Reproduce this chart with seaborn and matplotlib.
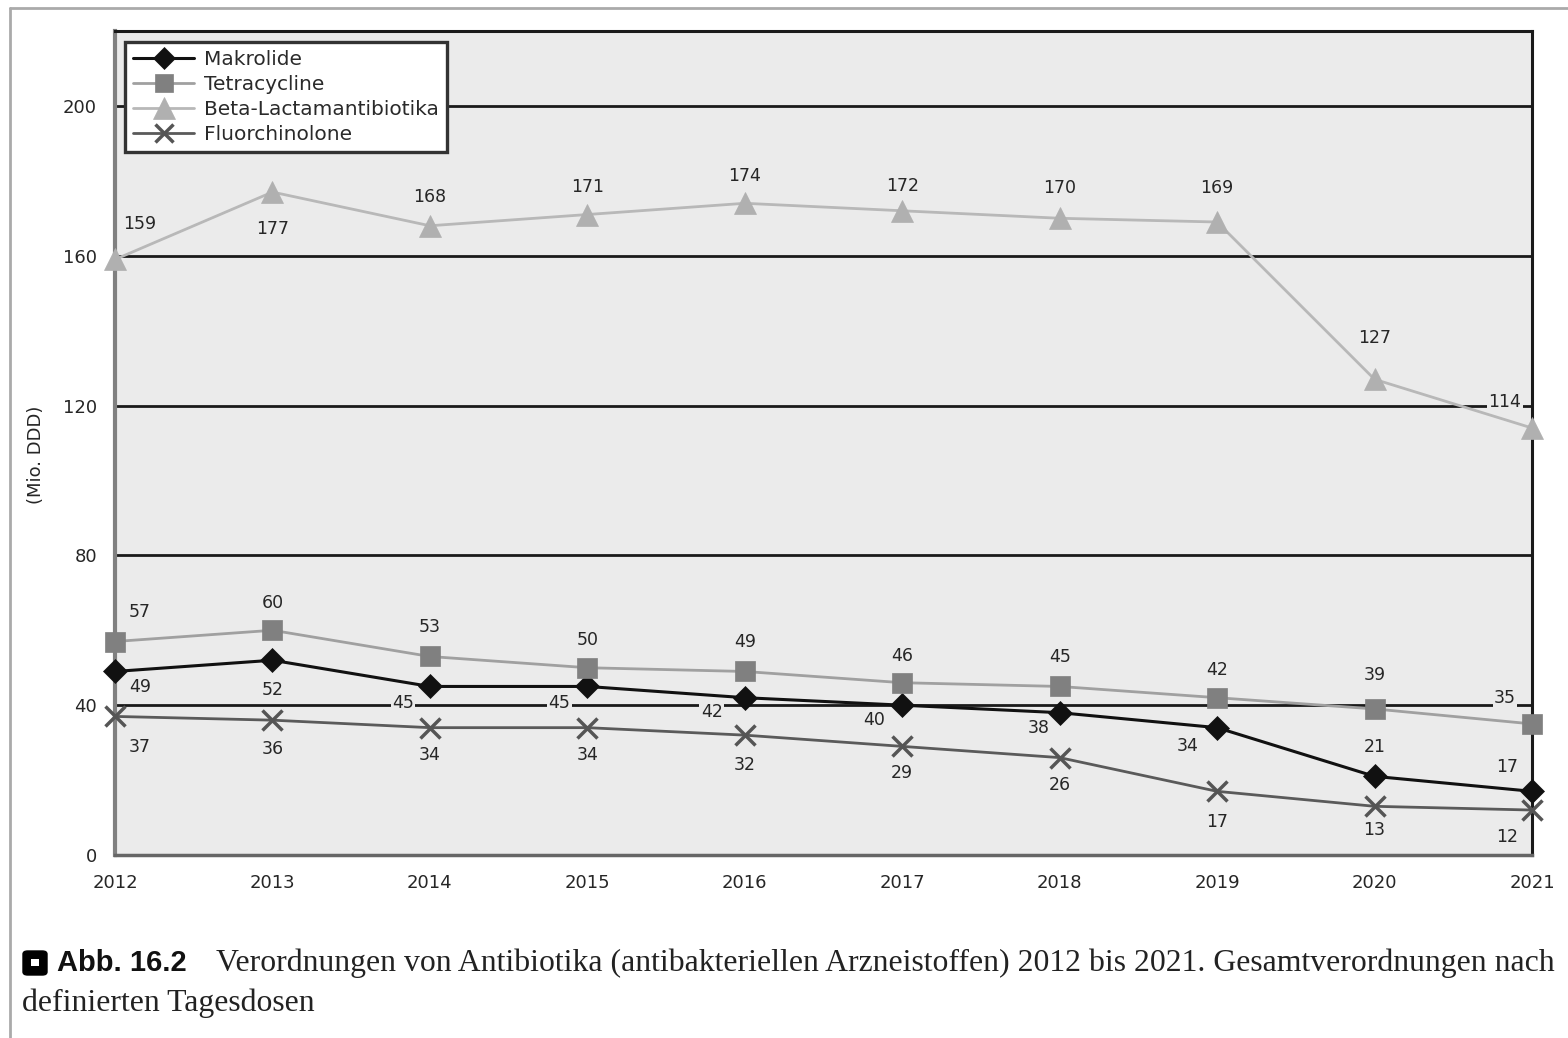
import matplotlib
matplotlib.use("Agg")
import matplotlib.pyplot as plt
import seaborn as sns
import pandas as pd
from matplotlib.lines import Line2D
from matplotlib.patches import FancyBboxPatch, Rectangle

years = [2012, 2013, 2014, 2015, 2016, 2017, 2018, 2019, 2020, 2021]
makrolide = [49, 52, 45, 45, 42, 40, 38, 34, 21, 17]
tetracycline = [57, 60, 53, 50, 49, 46, 45, 42, 39, 35]
beta_lactam = [159, 177, 168, 171, 174, 172, 170, 169, 127, 114]
fluorchinolone = [37, 36, 34, 34, 32, 29, 26, 17, 13, 12]
series_names = ["Makrolide", "Tetracycline", "Beta-Lactamantibiotika", "Fluorchinolone"]
y_ticks = [0, 40, 80, 120, 160, 200]
y_label = "(Mio. DDD)"
caption_bold = "Abb. 16.2"
caption_line1 = "Verordnungen von Antibiotika (antibakteriellen Arzneistoffen) 2012 bis 2021. Gesamtverordnungen nach"
caption_line2 = "definierten Tagesdosen"

# label offsets in pixels (style only)
off_makro = [(25, -16), (0, -30), (-27, -17), (-28, -17), (-33, -14), (-28, -15), (-21, -15), (-29, -18), (0, 29), (-25, 24)]
off_tetra = [(25, 30), (0, 27), (0, 29), (0, 28), (0, 29), (0, 27), (0, 29), (0, 28), (0, 34), (-27, 26)]
off_beta = [(25, 35), (0, -37), (0, 29), (0, 28), (0, 27), (0, 25), (0, 30), (0, 34), (0, 41), (-27, 26)]
off_fluor = [(25, -31), (0, -29), (0, -27), (0, -27), (0, -30), (0, -27), (0, -27), (0, -31), (0, -24), (-25, -27)]

sns.set_theme(style="white")
plt.rcParams["font.family"] = ["DejaVu Sans"]

W, H = 1568, 1038
fig = plt.figure(figsize=(W / 100, H / 100), dpi=100)
ax = fig.add_axes([115 / W, 1 - 855 / H, (1532 - 115) / W, (855 - 31) / H])
bg = "#ebebeb"
ax.set_facecolor(bg)

styles = [
    dict(values=makrolide, color="#111111", mcolor="#111111", marker="D", ms=12, lw=2.2, offs=off_makro),
    dict(values=tetracycline, color="#a0a0a0", mcolor="#808080", marker="s", ms=14, lw=2.0, offs=off_tetra),
    dict(values=beta_lactam, color="#b8b8b8", mcolor="#b0b0b0", marker="^", ms=16, lw=2.0, offs=off_beta),
    dict(values=fluorchinolone, color="#5a5a5a", mcolor="#555555", marker="x", ms=14, lw=2.0, offs=off_fluor),
]

handles = []
for name, st in zip(series_names, styles):
    df = pd.DataFrame({"year": years, "value": st["values"]})
    mew = 2.5 if st["marker"] == "x" else 0.5
    sns.lineplot(data=df, x="year", y="value", ax=ax, color=st["color"], linewidth=st["lw"],
                 marker=st["marker"], markersize=st["ms"], markerfacecolor=st["mcolor"],
                 markeredgecolor=st["mcolor"], markeredgewidth=mew,
                 clip_on=False, zorder=4, legend=False)
    handles.append(Line2D([0], [0], color=st["color"], lw=st["lw"], marker=st["marker"],
                          markersize=st["ms"] * 0.95, markerfacecolor=st["mcolor"],
                          markeredgecolor=st["mcolor"], markeredgewidth=mew))
    for x, v, off in zip(years, st["values"], st["offs"]):
        ax.annotate(str(v), (x, v), xytext=off, textcoords="offset pixels", ha="center", va="center",
                    fontsize=12.5, color="#262626", zorder=3,
                    bbox=dict(boxstyle="square,pad=0.08", fc=bg, ec="none"))

ax.set_xlim(2012, 2021)
ax.set_ylim(0, 220)
ax.set_yticks(y_ticks)
ax.set_xticks(years)
ax.set_xticklabels([str(y) for y in years])
ax.yaxis.grid(True, color="#1a1a1a", linewidth=2.0, zorder=1)
ax.set_axisbelow(True)
ax.tick_params(axis="both", which="major", direction="out", length=4, width=1.5, color="#111111",
               labelsize=13, labelcolor="#262626")
ax.tick_params(axis="y", pad=9)
ax.tick_params(axis="x", pad=10)
ax.set_xlabel("")
ax.set_ylabel("")
fig.text(36 / W, 1 - 455 / H, y_label, rotation=90, fontsize=13, color="#262626", ha="center", va="center")

for side in ["top", "right"]:
    ax.spines[side].set_visible(True)
    ax.spines[side].set_color("#1a1a1a")
    ax.spines[side].set_linewidth(2.2)
ax.spines["left"].set_color("#808080")
ax.spines["left"].set_linewidth(3)
ax.spines["bottom"].set_color("#666666")
ax.spines["bottom"].set_linewidth(2.5)

leg = ax.legend(handles, series_names, loc="upper left", bbox_to_anchor=(0.007, 0.987),
                fontsize=14.5, frameon=True, fancybox=False, borderpad=0.42, labelspacing=0.29,
                handlelength=3.0, handletextpad=0.5, borderaxespad=0)
leg.get_frame().set_edgecolor("#333333")
leg.get_frame().set_linewidth(2.4)
leg.get_frame().set_facecolor("white")
leg.get_frame().set_alpha(1)
for t in leg.get_texts():
    t.set_color("#2a2a2a")

# outer border
fig.add_artist(Line2D([10 / W, 10 / W], [0, 1 - 8 / H], transform=fig.transFigure, color="#aaaaaa", lw=2))
fig.add_artist(Line2D([10 / W, 1], [1 - 8 / H, 1 - 8 / H], transform=fig.transFigure, color="#aaaaaa", lw=2))

# caption icon
fig.add_artist(FancyBboxPatch((23 / W, 1 - 975 / H), 24 / W, 24 / H,
                              boxstyle="round,pad=0,rounding_size=0.003", transform=fig.transFigure,
                              fc="black", ec="black"))
fig.add_artist(Rectangle((31 / W, 1 - 966 / H), 8 / W, 7 / H, transform=fig.transFigure, fc="white", ec="none"))

fig.text(57 / W, 1 - 963 / H, caption_bold, fontsize=21, fontweight="bold", va="center", ha="left",
         family=["Liberation Sans"], color="#111111")
fig.text(216 / W, 1 - 963 / H, caption_line1, fontsize=22.9, va="center", ha="left",
         family=["Liberation Serif"], color="#222222")
fig.text(22 / W, 1 - 1003 / H, caption_line2, fontsize=22.9, va="center", ha="left",
         family=["Liberation Serif"], color="#222222")

fig.savefig("out.png", dpi=100)
